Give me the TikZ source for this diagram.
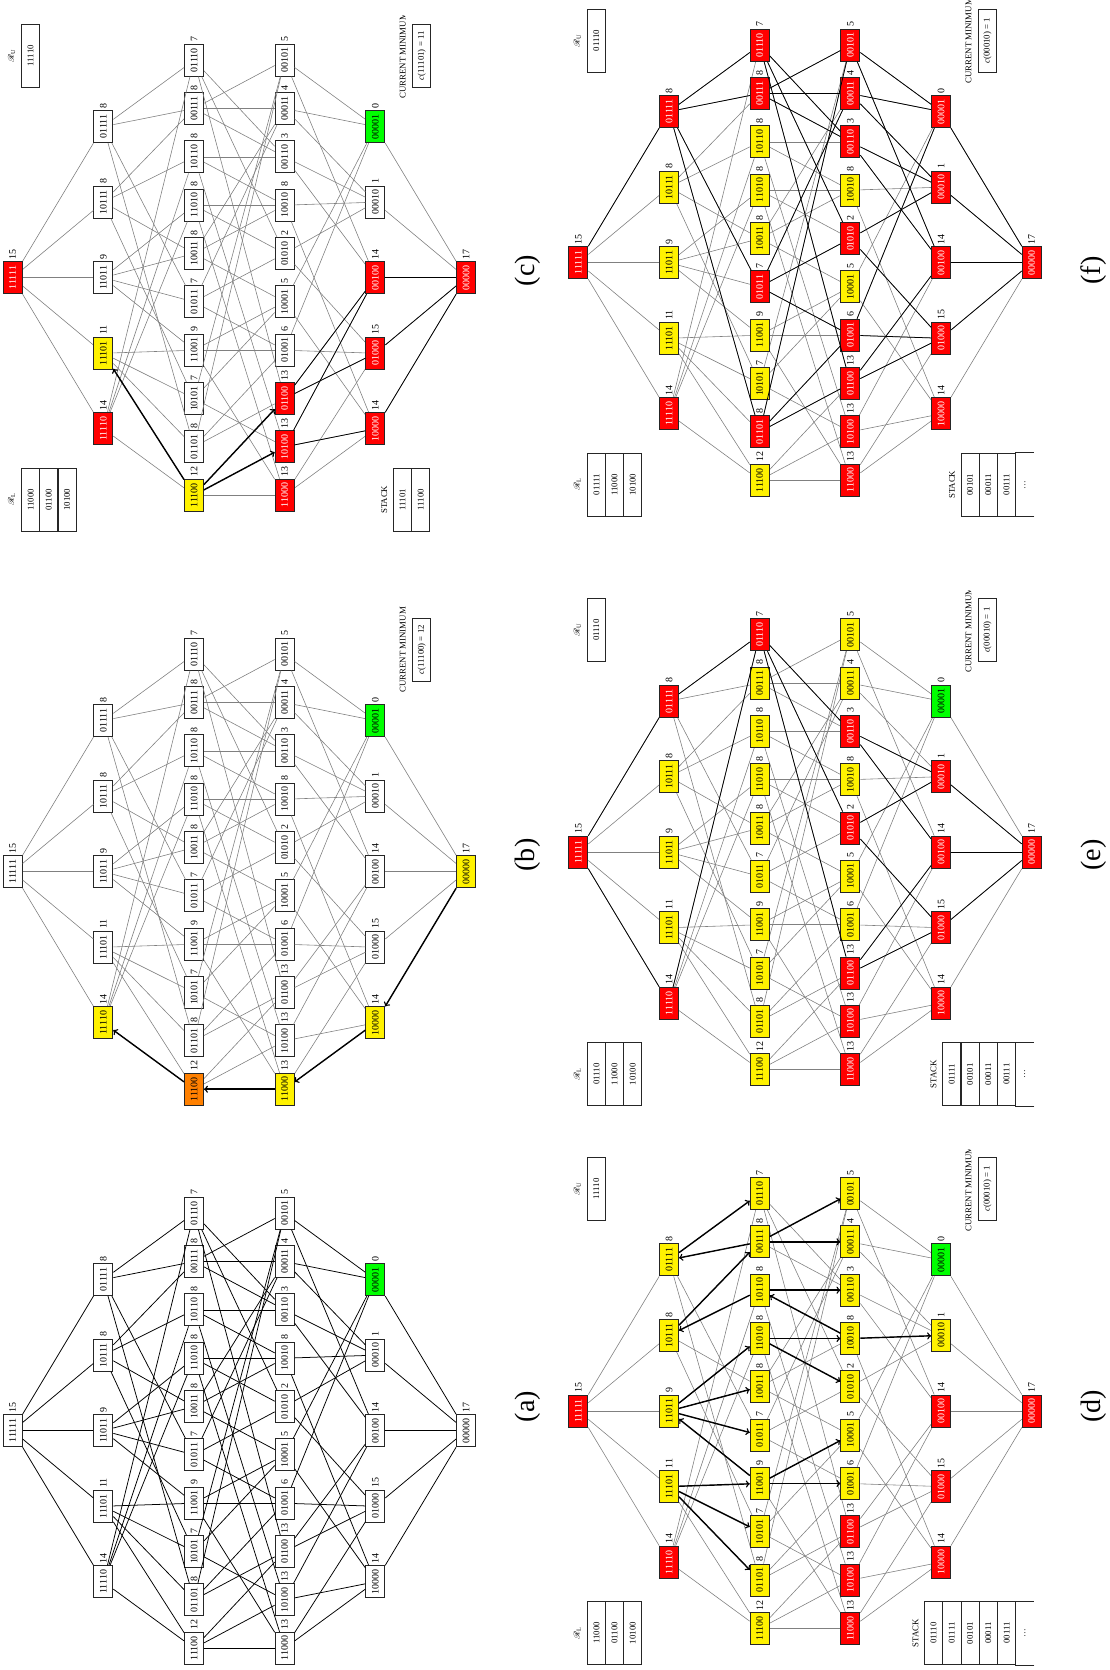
\documentclass[tikz,border=0pt]{standalone}
\usepackage{fontspec}
\setmainfont{Liberation Serif}
\usepackage{mathrsfs}
\tikzset{
bit/.style={rectangle, draw=black!85, line width=0.8pt, fill=white, minimum width=9.6mm, minimum height=5.7mm, inner sep=0pt, font=\fontsize{8.5}{9}\selectfont},
cost/.style={inner sep=1.5pt, anchor=west, font=\fontsize{8.5}{9}\selectfont},
rnode/.style={fill=red, text=white},
ynode/.style={fill=yellow},
gnode/.style={fill=green},
onode/.style={fill=orange},
wire/.style={draw=gray, line width=0.5pt},
hot/.style={draw=black, line width=0.65pt},
walk/.style={->, draw=black, line width=1.2pt},
cell/.style={rectangle, draw=black!85, line width=0.7pt, minimum width=19mm, minimum height=5.46mm, inner sep=0pt, font=\fontsize{7.5}{8}\selectfont},
note/.style={inner sep=0pt, font=\fontsize{7.5}{8}\selectfont},
tag/.style={inner sep=0pt, font=\fontsize{24}{26}\selectfont}
}
% edges from one bit string to the strings with one bit less
\def\kidsof#1#2#3#4#5\relax{%
\ifnum#1=1 \draw[wire] (\pfx-#1#2#3#4#5) -- (\pfx-0#2#3#4#5);\fi
\ifnum#2=1 \draw[wire] (\pfx-#1#2#3#4#5) -- (\pfx-#10#3#4#5);\fi
\ifnum#3=1 \draw[wire] (\pfx-#1#2#3#4#5) -- (\pfx-#1#20#4#5);\fi
\ifnum#4=1 \draw[wire] (\pfx-#1#2#3#4#5) -- (\pfx-#1#2#30#5);\fi
\ifnum#5=1 \draw[wire] (\pfx-#1#2#3#4#5) -- (\pfx-#1#2#3#40);\fi}
\newcommand{\kids}[2]{\def\pfx{#1}\foreach \b in {#2}{\expandafter\kidsof\b\relax}}
\newcommand{\cube}[1]{%
\node[bit] (#1-11111) at (0,0) {11111};
\foreach \b [count=\i] in {11110,11101,11011,10111,01111}
  \node[bit] (#1-\b) at ({(\i-3)*75.55},-90.66) {\b};
\foreach \b [count=\i] in {11100,01101,10101,11001,01011,10011,11010,10110,00111,01110}
  \node[bit] (#1-\b) at ({(\i-5.5)*48.33},-181.32) {\b};
\foreach \b [count=\i] in {11000,10100,01100,01001,10001,01010,10010,00110,00011,00101}
  \node[bit] (#1-\b) at ({(\i-5.5)*48.33},-271.98) {\b};
\foreach \b [count=\i] in {10000,01000,00100,00010,00001}
  \node[bit] (#1-\b) at ({(\i-3)*75.55},-362.64) {\b};
\node[bit] (#1-00000) at (0,-453.3) {00000};
% costs beside the nodes
\foreach \b/\v in {11111/15,11110/14,11101/11,11011/9,10111/8,01111/8,11100/12,01101/8,10101/7,11001/9,01011/7,10011/8,11010/8,10110/8,00111/8,01110/7,11000/13,10100/13,01100/13,01001/6,10001/5,01010/2,10010/8,00110/3,00011/4,00101/5,10000/14,01000/15,00100/14,00010/1,00001/0,00000/17}
  \node[cost] (#1-\b-c) at (#1-\b.east) {\v};
\kids{#1}{11111,11110,11101,11011,10111,01111,11100,01101,10101,11001,01011,10011,11010,10110,00111,01110,11000,10100,01100,01001,10001,01010,10010,00110,00011,00101,10000,01000,00100,00010,00001}}
\newcommand{\paint}[3]{\foreach \b in {#3} \node[bit, #2] (#1-\b) at (#1-\b) {\b};}
\newcommand{\rubox}[2]{%
\node[note] (#1-rut) at (222,1) {$\mathscr{R}_{\mathrm{U}}$};
\node[cell] (#1-ru) at (222,-17.8) {#2};}
\newcommand{\rlbox}[2]{%
\node[note] (#1-rlt) at (-222,1) {$\mathscr{R}_{\mathrm{L}}$};
\foreach \s [count=\i] in {#2} \node[cell] (#1-rl\i) at (-222,{-9-(\i-0.5)*18.1}) {\s};}
\newcommand{\pile}[4]{%
\node[note] (#1-stt) at (-222,#2+9) {STACK};
\foreach \s [count=\i] in {#3} \node[cell] (#1-st\i) at (-222,{#2-(\i-0.5)*18.27}) {\s};
\node[cell, draw=none] (#1-dots) at (-222,{#2-(#4+0.5)*18.27}) {\dots};
\draw[line width=0.7pt, black!85] (#1-dots.south west) -- (#1-dots.north west) -- (#1-dots.north east) -- (#1-dots.south east);}
\newcommand{\curmin}[2]{%
\begin{scope}
\clip (150,-378) rectangle (262,-400);
\node[note] (#1-cmt) at (222,-390) {CURRENT MINIMUM};
\end{scope}
\node[cell] (#1-cm) at (222,-409) {#2};}

\begin{document}
\begin{tikzpicture}[rotate=90, transform shape, x=0.3mm, y=0.3mm]
\useasboundingbox (-1670,-1110) rectangle (0,0);

% (a)
\begin{scope}[shift={(-1430.7,-12.7)}, wire/.style={hot}]
\cube{a}
\paint{a}{gnode}{00001}
\node[tag] (a-cap) at (24.2,-515) {(a)};
\end{scope}

% (b)
\begin{scope}[shift={(-871.7,-12.7)}]
\cube{b}
\paint{b}{ynode}{11110,11000,10000,00000}
\paint{b}{onode}{11100}
\paint{b}{gnode}{00001}
\draw[walk] (b-00000) -- (b-10000);
\draw[walk] (b-10000) -- (b-11000);
\draw[walk] (b-11000) -- (b-11100);
\draw[walk] (b-11100) -- (b-11110);
\node[note] (b-cmt) at (222,-390) {CURRENT MINIMUM};
\node[cell] (b-cm) at (222,-409) {\textit{c}(11100) = 12};
\node[tag] (b-cap) at (16.7,-515) {(b)};
\end{scope}

% (c)
\begin{scope}[shift={(-277.7,-12.7)}]
\cube{c}
\paint{c}{rnode}{11111,11110,11000,10100,01100,10000,01000,00100,00000}
\paint{c}{ynode}{11101,11100}
\paint{c}{gnode}{00001}
\begin{scope}[wire/.style={hot}]
\kids{c}{01100,10100,10000,01000,00100}
\end{scope}
\draw[walk] (c-11100) -- (c-11101);
\draw[walk] (c-11100) -- (c-01100);
\draw[walk] (c-11100) -- (c-10100);
\rubox{c}{11110}
\rlbox{c}{11000,01100,10100}
\node[note] (c-stt) at (-222,-371.6) {STACK};
\node[cell] (c-st1) at (-222,-389.7) {11101};
\node[cell] (c-st2) at (-222,-408) {11100};
\curmin{c}{\textit{c}(11101) = 11}
\node[tag] (c-cap) at (7.2,-515) {(c)};
\end{scope}

% (d)
\begin{scope}[shift={(-1411,-578.4)}]
\cube{d}
\paint{d}{rnode}{11111,11110,11000,10100,01100,10000,01000,00100,00000}
\paint{d}{ynode}{11101,11011,10111,01111,11100,01101,10101,11001,01011,10011,11010,10110,00111,01110,01001,10001,01010,10010,00110,00011,00101,00010}
\paint{d}{gnode}{00001}
\foreach \u/\w in {11101/11001,11101/10101,11101/01101,11001/10001,11001/01001,11001/11011,11011/10011,11011/01011,11011/11010,11010/10010,11010/01010,10010/00010,10010/10110,10110/00110,10110/10111,10111/00111,00111/00011,00111/00101,00111/01111,01111/01110}
  \draw[walk] (d-\u) -- (d-\w);
\rubox{d}{11110}
\rlbox{d}{11000,01100,10100}
\pile{d}{-346}{01110,01111,00101,00011,00111}{5}
\curmin{d}{\textit{c}(00010) = 1}
\node[tag] (d-cap) at (4.5,-515) {(d)};
\end{scope}

% (e)
\begin{scope}[shift={(-852.2,-578.4)}]
\cube{e}
\paint{e}{rnode}{11111,11110,01111,01110,11000,10100,01100,01010,00110,10000,01000,00100,00010,00000}
\paint{e}{ynode}{11101,11011,10111,11100,01101,10101,11001,01011,10011,11010,10110,00111,01001,10001,10010,00011,00101}
\paint{e}{gnode}{00001}
\begin{scope}[wire/.style={hot}]
\kids{e}{01110,01100,01010,00110,01000,00100,00010}
\end{scope}
\draw[hot] (e-11111) -- (e-11110);
\draw[hot] (e-11111) -- (e-01111);
\draw[hot] (e-11110) -- (e-01110);
\draw[hot] (e-01111) -- (e-01110);
\rubox{e}{01110}
\rlbox{e}{01110,11000,10100}
\pile{e}{-364.2}{01111,00101,00011,00111}{4}
\curmin{e}{\textit{c}(00010) = 1}
\node[tag] (e-cap) at (-2.8,-515) {(e)};
\end{scope}

% (f)
\begin{scope}[shift={(-262.7,-578.4)}]
\cube{f}
\paint{f}{rnode}{11111,11110,01111,01110,00111,01011,01101,11000,10100,01100,01001,01010,00110,00101,00011,10000,01000,00100,00010,00001,00000}
\paint{f}{ynode}{11101,11011,10111,11100,10101,11001,10011,11010,10110,10010,10001}
\begin{scope}[wire/.style={hot}]
\kids{f}{01111,01110,01101,01011,00111,01100,01010,01001,00110,00101,00011,01000,00100,00010,00001}
\end{scope}
\draw[hot] (f-11111) -- (f-01111);
\rubox{f}{01110}
\rlbox{f}{01111,11000,10100}
\pile{f}{-382.5}{00101,00011,00111}{3}
\curmin{f}{\textit{c}(00010) = 1}
\node[tag] (f-cap) at (-7.8,-515) {(f)};
\end{scope}

\end{tikzpicture}
\end{document}
